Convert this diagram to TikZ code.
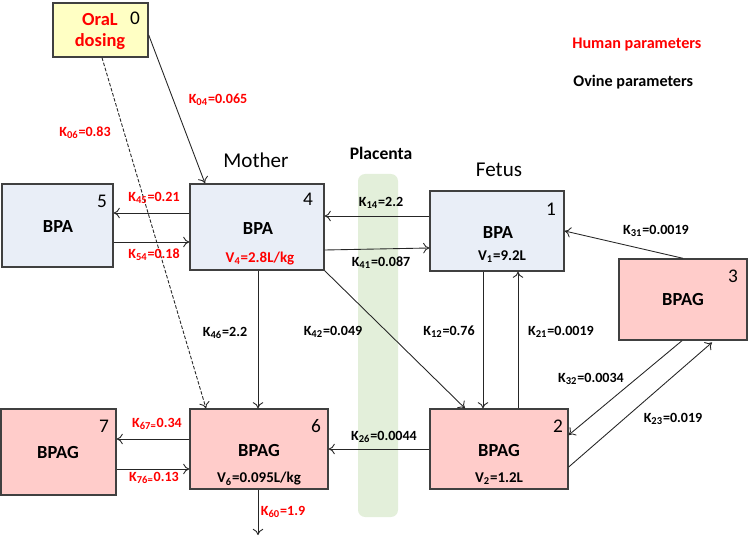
\documentclass[tikz,border=0pt]{standalone}
\usepackage{fontspec}
\setmainfont{Carlito}
\usetikzlibrary{arrows.meta}
\definecolor{bpablue}{RGB}{233,238,247}
\definecolor{bpagpink}{RGB}{255,204,202}
\definecolor{dosyellow}{RGB}{255,255,196}
\definecolor{placgreen}{RGB}{227,239,218}
\definecolor{humred}{RGB}{255,0,0}

\begin{document}
\begin{tikzpicture}[x=0.02cm,y=-0.02cm,
 box/.style={draw=black!75,line width=0.8pt,inner sep=0pt},
 bpa/.style={box,fill=bpablue},
 bpag/.style={box,fill=bpagpink},
 flow/.style={-{To[length=3.5pt,width=6pt]},line width=0.5pt,black!85},
 ko/.style={font=\bfseries\fontsize{8}{9}\selectfont,inner sep=1pt},
 kh/.style={ko,text=humred},
 num/.style={font=\fontsize{11}{12}\selectfont,inner sep=0pt},
 drug/.style={font=\bfseries\fontsize{10.5}{12}\selectfont,inner sep=0pt},
 vol/.style={font=\bfseries\fontsize{8.5}{10}\selectfont,inner sep=0pt}]
 \useasboundingbox (0,0) rectangle (750,543);

 % placenta band
 \fill[placgreen,rounded corners=4pt] (358,174) rectangle (398,517);
 \node[font=\bfseries\fontsize{10}{12}\selectfont] (plac) at (381,153) {Placenta};
 \node[font=\fontsize{12}{14}\selectfont] (mother) at (256,160) {Mother};
 \node[font=\fontsize{12}{14}\selectfont] (fetus) at (499,170) {Fetus};

 \node[font=\bfseries\fontsize{9.2}{11}\selectfont,text=humred,anchor=west,inner sep=0pt] (human) at (572,45) {Human parameters};
 \node[font=\bfseries\fontsize{9.2}{11}\selectfont,anchor=west,inner sep=0pt] (ovine) at (573,82) {Ovine parameters};

 % compartments
 \node[box,fill=dosyellow,minimum width=1.9cm,minimum height=1.08cm] (b0) at (100.5,30) {};
 \node[bpa,minimum width=2.22cm,minimum height=1.66cm] (b5) at (57.5,225.5) {};
 \node[bpa,minimum width=2.68cm,minimum height=1.72cm] (b4) at (257,227) {};
 \node[bpa,minimum width=2.68cm,minimum height=1.6cm] (b1) at (497,231) {};
 \node[bpag,minimum width=2.56cm,minimum height=1.62cm] (b3) at (683,299.5) {};
 \node[bpag,minimum width=2.76cm,minimum height=1.6cm] (b2) at (499,449) {};
 \node[bpag,minimum width=2.76cm,minimum height=1.6cm] (b6) at (259,449) {};
 \node[bpag,minimum width=2.3cm,minimum height=1.72cm] (b7) at (58.5,452) {};

 \node[drug,text=humred] (oral) at (100,20) {OraL};
 \node[drug,text=humred] (dosing) at (100,42) {dosing};
 \node[num] (n0) at (135,18) {0};
 \node[num] (n5) at (102,201) {5};
 \node[drug] (t5) at (58,227) {BPA};
 \node[num] (n4) at (308,199) {4};
 \node[drug] (t4) at (258,229) {BPA};
 \node[vol,text=humred] (v4) at (260,259) {V\textsubscript{4}=2.8L/kg};
 \node[num] (n1) at (551,209) {1};
 \node[drug] (t1) at (498,233) {BPA};
 \node[vol] (v1) at (502,257) {V\textsubscript{1}=9.2L};
 \node[num] (n3) at (733,276) {3};
 \node[drug] (t3) at (683,300) {BPAG};
 \node[num] (n2) at (558,426) {2};
 \node[drug] (t2) at (499,451) {BPAG};
 \node[vol] (v2) at (499,479) {V\textsubscript{2}=1.2L};
 \node[num] (n6) at (316,426) {6};
 \node[drug] (t6) at (259,451) {BPAG};
 \node[vol] (v6) at (259,479) {V\textsubscript{6}=0.095L/kg};
 \node[num] (n7) at (104,426) {7};
 \node[drug] (t7) at (58,453) {BPAG};

 % transfers
 \draw[flow] (b0.east |- 0,35) -- (b4.north -| 205,0);
 \draw[flow,dash pattern=on 2pt off 1pt] (b0.south -| 102,0) -- (b6.north -| 206,0);
 \draw[flow] (b4.west |- 0,213) -- (b5.east |- 0,213);
 \draw[flow] (b5.east |- 0,242) -- (b4.west |- 0,242);
 \draw[flow] (b1.west |- 0,216) -- (b4.east |- 0,216);
 \draw[flow] (b4.east |- 0,250) -- (b1.west |- 0,248);
 \draw[flow] (b4.south east) -- (b2.north -| 465,0);
 \draw[flow] (b4.south -| 258,0) -- (b6.north -| 258,0);
 \draw[flow] (b1.south -| 483,0) -- (b2.north -| 483,0);
 \draw[flow] (b2.north -| 518,0) -- (b1.south -| 518,0);
 \draw[flow] (b3.north) -- (b1.east |- 0,231);
 \draw[flow] (b3.south -| 682,0) -- (b2.east |- 0,435);
 \draw[flow] (b2.east |- 0,467) -- ([yshift=-1pt]b3.south -| 712,0);
 \draw[flow] (b2.west) -- (b6.east |- b2.west);
 \draw[flow] (b6.west |- 0,439) -- (b7.east |- 0,439);
 \draw[flow] (b7.east |- 0,469) -- (b6.west |- 0,469);
 \coordinate (sink) at (258,535);
 \draw[flow] (b6.south -| 258,0) -- (sink);

 % rate constants
 \node[kh] (k04) at (218,100) {K\textsubscript{04}=0.065};
 \node[kh] (k06) at (85,133) {K\textsubscript{06}=0.83};
 \node[kh] (k45) at (154,198) {K\textsubscript{45}=0.21};
 \node[kh] (k54) at (154,255) {K\textsubscript{54}=0.18};
 \node[ko] (k14) at (381,203) {K\textsubscript{14}=2.2};
 \node[ko] (k41) at (381,263) {K\textsubscript{41}=0.087};
 \node[ko] (k31) at (656,231) {K\textsubscript{31}=0.0019};
 \node[ko] (k46) at (225,333) {K\textsubscript{46}=2.2};
 \node[ko] (k42) at (333,332) {K\textsubscript{42}=0.049};
 \node[ko] (k12) at (449,332) {K\textsubscript{12}=0.76};
 \node[ko] (k21) at (561,332) {K\textsubscript{21}=0.0019};
 \node[ko] (k32) at (591,379) {K\textsubscript{32}=0.0034};
 \node[ko] (k23) at (673,419) {K\textsubscript{23}=0.019};
 \node[ko] (k26) at (384,437) {K\textsubscript{26}=0.0044};
 \node[kh] (k67) at (157,424) {K\textsubscript{67=}0.34};
 \node[kh] (k76) at (154,478) {K\textsubscript{76=}0.13};
 \node[kh] (k60) at (283,512) {K\textsubscript{60}=1.9};
\end{tikzpicture}
\end{document}
